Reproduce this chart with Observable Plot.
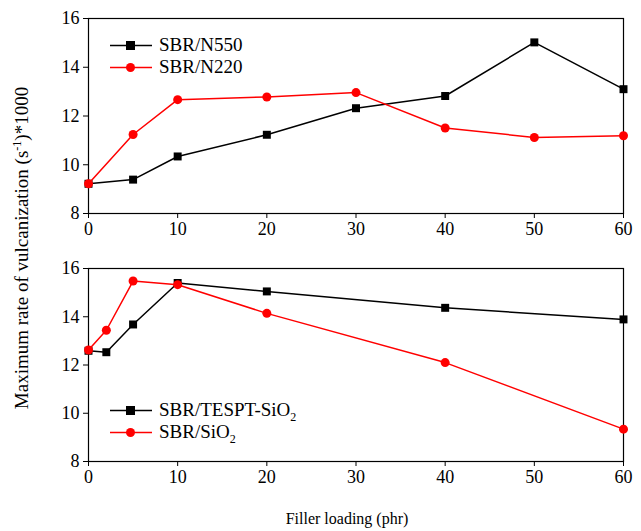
<!DOCTYPE html>
<html><head><meta charset="utf-8">
<script src="https://cdn.jsdelivr.net/npm/d3@7"></script>
<script src="https://cdn.jsdelivr.net/npm/@observablehq/plot@0.6"></script>
<style>
body{margin:0;background:#fff;}
#wrap{position:relative;width:641px;height:531px;font-family:"Liberation Serif","Times New Roman","DejaVu Serif",serif;color:#000;}
#wrap svg{position:absolute;left:0;}
.leg{position:absolute;font-size:19px;line-height:22px;}
.leg div{display:flex;align-items:center;height:22px;}
.leg svg{position:static !important;margin-right:7px;}
.ylab{position:absolute;left:22px;top:248px;transform:translate(-50%,-50%) rotate(-90deg);white-space:nowrap;font-size:19px;}
.xlab{position:absolute;left:347px;top:510px;transform:translateX(-50%);white-space:nowrap;font-size:16px;}
sub,sup{font-size:12px;line-height:0;}
</style></head>
<body><div id="wrap"></div>
<script>
const xTop = [0, 5, 10, 20, 30, 40, 50, 60];
const n550 = [9.22, 9.39, 10.34, 11.23, 12.32, 12.82, 15.02, 13.10];
const n220 = [9.22, 11.24, 12.67, 12.78, 12.96, 11.51, 11.12, 11.19];
const xBottom = [0, 2, 5, 10, 20, 40, 60];
const tespt = [12.59, 12.53, 13.68, 15.40, 15.05, 14.37, 13.89];
const sio2 = [12.62, 13.44, 15.48, 15.33, 14.14, 12.10, 9.34];
const xTicks = [0, 10, 20, 30, 40, 50, 60];
const yTicks = [8, 10, 12, 14, 16];

const toRows = (xs, ys) => xs.map((x, i) => ({x, y: ys[i]}));

function panel(a, b, height, marginBottom) {
  const blackRows = toRows(a.x, a.y), redRows = toRows(b.x, b.y);
  return Plot.plot({
    width: 641, height,
    marginLeft: 88, marginRight: 18, marginTop: 18, marginBottom,
    style: {fontFamily: "'Liberation Serif', 'Times New Roman', 'DejaVu Serif', serif", fontSize: "18px", color: "#000", background: "transparent"},
    x: {domain: [0, 60], ticks: xTicks, tickSize: 5, tickPadding: 4, label: null},
    y: {domain: [8, 16], ticks: yTicks, tickSize: 5, tickPadding: 4, label: null},
    marks: [
      Plot.frame({stroke: "#000", strokeWidth: 1.2}),
      Plot.line(blackRows, {x: "x", y: "y", stroke: "#000", strokeWidth: 1.5}),
      Plot.dot(blackRows, {x: "x", y: "y", symbol: "square", fill: "#000", r: 4.5}),
      Plot.line(redRows, {x: "x", y: "y", stroke: "#ff0000", strokeWidth: 1.5}),
      Plot.dot(redRows, {x: "x", y: "y", symbol: "circle", fill: "#ff0000", r: 4.5})
    ]
  });
}

const wrap = document.getElementById("wrap");
const top1 = panel({x: xTop, y: n550}, {x: xTop, y: n220}, 250, 37);
top1.style.top = "0px";
wrap.appendChild(top1);
const bot = panel({x: xBottom, y: tespt}, {x: xBottom, y: sio2}, 241, 30);
bot.style.top = "250px";
wrap.appendChild(bot);

function swatch(color, shape) {
  const m = shape === "square"
    ? `<rect x="16" y="6" width="9" height="9" fill="${color}"/>`
    : `<circle cx="20.5" cy="10.5" r="4.5" fill="${color}"/>`;
  return `<svg width="42" height="21"><line x1="0" x2="42" y1="10.5" y2="10.5" stroke="${color}" stroke-width="1.5"/>${m}</svg>`;
}
const topLegend = [["SBR/N550", "#000", "square"], ["SBR/N220", "#ff0000", "circle"]];
const botLegend = [["SBR/TESPT-SiO<sub>2</sub>", "#000", "square"], ["SBR/SiO<sub>2</sub>", "#ff0000", "circle"]];
function legend(items, left, top) {
  const d = document.createElement("div");
  d.className = "leg";
  d.style.left = left + "px"; d.style.top = top + "px";
  d.innerHTML = items.map(([t, c, s]) => `<div>${swatch(c, s)}<span>${t}</span></div>`).join("");
  wrap.appendChild(d);
}
legend(topLegend, 110, 34);
legend(botLegend, 110, 399);

const yl = document.createElement("div");
yl.className = "ylab";
yl.innerHTML = "Maximum rate of vulcanization (s<sup>-1</sup>)*1000";
wrap.appendChild(yl);
const xl = document.createElement("div");
xl.className = "xlab";
xl.textContent = "Filler loading (phr)";
wrap.appendChild(xl);
</script></body></html>
